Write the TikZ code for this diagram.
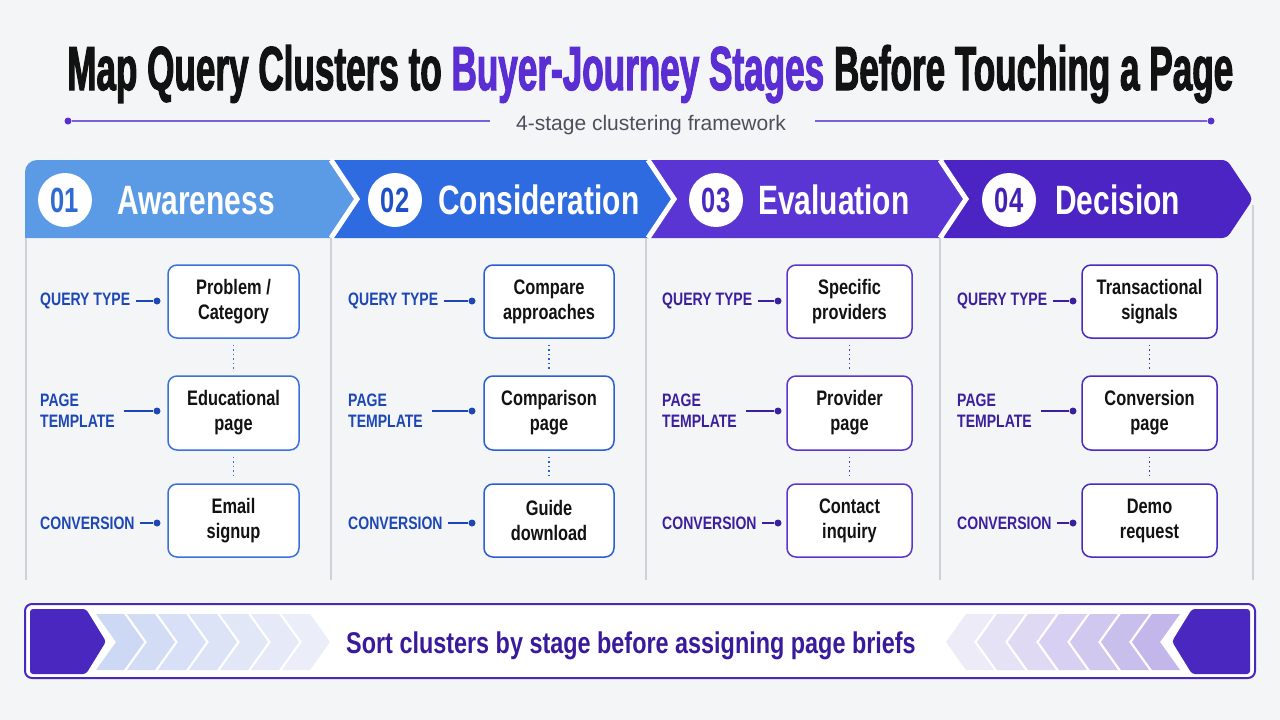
\documentclass[tikz,border=0pt]{standalone}
\usepackage{fontspec}
\usepackage{graphicx}
\setmainfont{Liberation Sans}[FakeStretch=0.78]
\newfontfamily\titlefont{Liberation Sans}[FakeStretch=0.72,BoldFeatures={FakeBold=2}]
\newfontfamily\headfont{Liberation Sans}[FakeStretch=0.73]
\newfontfamily\subfont{Liberation Sans}
\definecolor{bg}{HTML}{F4F5F7}
\definecolor{ink}{HTML}{121212}
\definecolor{tpurple}{HTML}{5B2ED3}
\definecolor{subgray}{HTML}{4B505B}
\definecolor{subline}{HTML}{7B5FDB}
\definecolor{subdot}{HTML}{5A2FCF}
\definecolor{segA}{HTML}{5B9AE4}
\definecolor{segB}{HTML}{2E6BE0}
\definecolor{segC}{HTML}{5B35D3}
\definecolor{segD}{HTML}{4B24C3}
\definecolor{numA}{HTML}{2F6BD2}
\definecolor{numB}{HTML}{1E50C6}
\definecolor{numC}{HTML}{4A28C2}
\definecolor{numD}{HTML}{4321B6}
\definecolor{labA}{HTML}{1D47B5}
\definecolor{labB}{HTML}{1D47B5}
\definecolor{labC}{HTML}{3C1F9E}
\definecolor{labD}{HTML}{3C1F9E}
\definecolor{boxA}{HTML}{3A72DC}
\definecolor{boxB}{HTML}{2A5ED4}
\definecolor{boxC}{HTML}{5A36CC}
\definecolor{boxD}{HTML}{4A29C0}
\definecolor{sep}{HTML}{CDD1D8}
\definecolor{banner}{HTML}{4A27BE}
\definecolor{bantext}{HTML}{3A1A9C}
\definecolor{chevL}{HTML}{CDD9F4}
\definecolor{chevLend}{HTML}{ECEEF9}
\definecolor{chevR}{HTML}{C2B6EB}
\definecolor{chevRend}{HTML}{EFEDF9}
\tikzset{
  dotst/.style={circle, inner sep=0pt, minimum size=7pt},
  badge/.style={circle, fill=white, inner sep=0pt, minimum size=54pt, font=\headfont\bfseries\fontsize{35}{35}\selectfont},
  stagename/.style={anchor=base west, inner sep=0pt, text=white, font=\headfont\bfseries\fontsize{41}{41}\selectfont},
  lab/.style={inner sep=0pt, anchor=west, align=left, font=\bfseries\fontsize{18}{21}\selectfont},
  cbox/.style={draw, line width=1.5pt, rounded corners=9pt, fill=white, text=ink, align=center, inner sep=0pt, font=\bfseries\fontsize{21}{25}\selectfont},
  conn/.style={line width=1.3pt},
  vdots/.style={line width=1.5pt, dash pattern=on 1.5pt off 3pt},
  sepline/.style={sep, line width=1.2pt}
}
\newcommand\stagecol[8]{%
  \node[lab, text=lab#1] (lq#1) at (#2,301) {QUERY TYPE};
  \node[lab, text=lab#1] (lp#1) at (#2,411) {PAGE\\TEMPLATE};
  \node[lab, text=lab#1] (lc#1) at (#2,523) {CONVERSION};
  \node[dotst, fill=lab#1] (dq#1) at (#3,301) {};
  \node[dotst, fill=lab#1] (dp#1) at (#3,411) {};
  \node[dotst, fill=lab#1] (dc#1) at (#3,523) {};
  \node[cbox, draw=box#1, minimum width=#5pt, minimum height=73pt] (bq#1) at (#4,301.5) {#6};
  \node[cbox, draw=box#1, minimum width=#5pt, minimum height=74pt] (bp#1) at (#4,413) {#7};
  \node[cbox, draw=box#1, minimum width=#5pt, minimum height=73pt] (bc#1) at (#4,520.5) {#8};
  \draw[conn, lab#1] ([xshift=6pt]lq#1.east) -- (dq#1);
  \draw[conn, lab#1] ([xshift=9pt]lp#1.east) -- (dp#1);
  \draw[conn, lab#1] ([xshift=5pt]lc#1.east) -- (dc#1);
  \draw[vdots, box#1] ([yshift=-6pt]bq#1.south) -- ([yshift=6pt]bp#1.north);
  \draw[vdots, box#1] ([yshift=-6pt]bp#1.south) -- ([yshift=6pt]bc#1.north);
}
\begin{document}
\begin{tikzpicture}[x=1pt,y=-1pt]
\fill[bg] (0,0) rectangle (1280,720);
\useasboundingbox (0,0) rectangle (1280,720);

% title
\node[anchor=base west, inner sep=0pt, text=ink] (title) at (67,90)
  {\resizebox{1166pt}{45pt}{\titlefont\bfseries\fontsize{60}{60}\selectfont Map Query Clusters to \textcolor{tpurple}{Buyer-Journey Stages} Before Touching a Page}};

% subtitle
\node[anchor=base, inner sep=0pt, text=subgray, font=\subfont\fontsize{21}{21}\selectfont] (sub) at (651,130) {4-stage clustering framework};
\node[dotst, fill=subdot] (sdl) at (68,121) {};
\node[dotst, fill=subdot] (sdr) at (1211,121) {};
\coordinate (sl) at (490,121);
\coordinate (sr) at (815,121);
\draw[subline, line width=1.2pt] (sdl) -- (sl);
\draw[subline, line width=1.2pt] (sr) -- (sdr);

% header band
\fill[segA] (25,238) -- (25,172) arc(180:270:12) -- (331,160) -- (357,199) -- (331,238) -- cycle;
\fill[segB] (331,160) -- (648,160) -- (674,199) -- (648,238) -- (331,238) -- (357,199) -- cycle;
\fill[segC] (648,160) -- (940,160) -- (966,199) -- (940,238) -- (648,238) -- (674,199) -- cycle;
\fill[segD, rounded corners=5pt] (940,160) -- (1227,160) -- (1253,199) -- (1227,238) -- (940,238) -- (966,199) -- cycle;
\foreach \bx in {331,648,940}{
  \draw[white, line width=5pt, line join=miter] (\bx,160) -- (\bx+26,199) -- (\bx,238);
}
\node[badge, text=numA] (n1) at (65,200) {01};
\node[badge, text=numB] (n2) at (395,200) {02};
\node[badge, text=numC] (n3) at (716,200) {03};
\node[badge, text=numD] (n4) at (1009,200) {04};
\node[stagename] (s1) at (117,214) {Awareness};
\node[stagename] (s2) at (438,214) {Consideration};
\node[stagename] (s3) at (758,214) {Evaluation};
\node[stagename] (s4) at (1055,214) {Decision};

% panel separators
\draw[sepline] (26,238) -- (26,580);
\draw[sepline] (331,238) -- (331,580);
\draw[sepline] (646,238) -- (646,580);
\draw[sepline] (940,238) -- (940,580);
\draw[sepline] (1253,205) -- (1253,580);

% columns
\stagecol{A}{40}{157}{233.5}{131}{Problem /\\Category}{Educational\\page}{Email\\signup}
\stagecol{B}{348}{472}{549}{130}{Compare\\approaches}{Comparison\\page}{Guide\\download}
\stagecol{C}{662}{778}{849.5}{125}{Specific\\providers}{Provider\\page}{Contact\\inquiry}
\stagecol{D}{957}{1073}{1149.5}{135}{Transactional\\signals}{Conversion\\page}{Demo\\request}

% bottom banner
\draw[banner, line width=2pt, fill=white, rounded corners=7pt] (25,604) rectangle (1255,678);
\fill[banner, rounded corners=3pt] (30,609) -- (86,609) -- (106,641.5) -- (86,674) -- (30,674) -- cycle;
\fill[banner, rounded corners=3pt] (1250,609) -- (1192,609) -- (1172,641.5) -- (1192,674) -- (1250,674) -- cycle;
\foreach \i in {0,...,6}{
  \pgfmathsetmacro\xa{96+31*\i}
  \pgfmathtruncatemacro\pc{100-\i*16}
  \fill[chevL!\pc!chevLend] (\xa,614) -- ++(28,0) -- ++(20,28) -- ++(-20,28) -- ++(-28,0) -- ++(20,-28) -- cycle;
  \pgfmathsetmacro\xb{1276-\xa}
  \fill[chevR!\pc!chevRend] (\xb,614) -- ++(-28,0) -- ++(-20,28) -- ++(20,28) -- ++(28,0) -- ++(-20,-28) -- cycle;
}
\node[anchor=base, inner sep=0pt, text=bantext, font=\bfseries\fontsize{30}{30}\selectfont] (bt) at (631,653) {Sort clusters by stage before assigning page briefs};
\end{tikzpicture}
\end{document}
